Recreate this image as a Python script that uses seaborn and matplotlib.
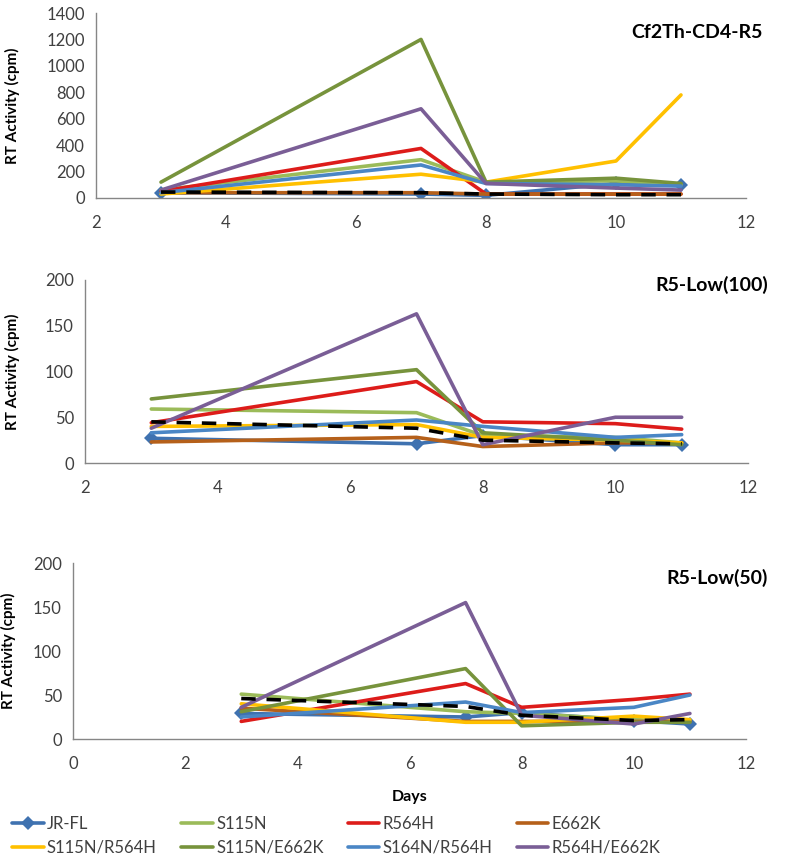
import numpy as np
import pandas as pd
import matplotlib
matplotlib.use("Agg")
import matplotlib.pyplot as plt
import seaborn as sns

sns.set_theme(style="white")
plt.rcParams['font.family'] = ['Lato', 'DejaVu Sans']

# ---- data ----
days = [3, 7, 8, 10, 11]

series_names = ['JR-FL', 'S115N', 'R564H', 'E662K',
                'S115N/R564H', 'S115N/E662K', 'S164N/R564H', 'R564H/E662K']
series_colors = ['#3F72B0', '#9BBB59', '#DD1C1A', '#B5601A',
                 '#FFC000', '#77933C', '#4A86C5', '#7A5E96']

panel_titles = ['Cf2Th-CD4-R5', 'R5-Low(100)', 'R5-Low(50)']

# Cf2Th-CD4-R5
cf2th = {
    'JR-FL':       [40, 30, 20, 110, 95],
    'S115N':       [60, 290, 120, 130, 100],
    'R564H':       [50, 375, 30, 30, 30],
    'E662K':       [40, 40, 30, 30, 30],
    'S115N/R564H': [30, 180, 120, 280, 780],
    'S115N/E662K': [120, 1200, 120, 150, 110],
    'S164N/R564H': [40, 250, 110, 100, 90],
    'R564H/E662K': [60, 675, 110, 75, 60],
}
cf2th_dash = [45, 40, 30, 25, 25]

# R5-Low(100)
low100 = {
    'JR-FL':       [27, 21, 30, 20, 20],
    'S115N':       [59, 55, 30, 28, 22],
    'R564H':       [44, 89, 45, 43, 37],
    'E662K':       [23, 28, 18, 22, 22],
    'S115N/R564H': [40, 42, 28, 25, 22],
    'S115N/E662K': [70, 102, 33, 25, 20],
    'S164N/R564H': [33, 47, 40, 28, 31],
    'R564H/E662K': [38, 163, 20, 50, 50],
}
low100_dash = [45, 38, 25, 22, 21]

# R5-Low(50)
low50 = {
    'JR-FL':       [29, 25, 30, 21, 17],
    'S115N':       [51, 31, 29, 22, 20],
    'R564H':       [20, 63, 36, 45, 51],
    'E662K':       [35, 20, 20, 20, 20],
    'S115N/R564H': [40, 19, 19, 26, 22],
    'S115N/E662K': [31, 80, 15, 19, 19],
    'S164N/R564H': [25, 42, 30, 36, 50],
    'R564H/E662K': [36, 155, 27, 17, 29],
}
low50_dash = [46, 37, 27, 21, 22]

panel_data = [cf2th, low100, low50]
panel_dash = [cf2th_dash, low100_dash, low50_dash]
y_max = [1400, 200, 200]
y_step = [200, 50, 50]
x_min = [2, 2, 0]

# axes boxes in pixels: left, right, top, bottom
W, H = 790, 864
boxes = [(96, 746, 13, 198), (85, 748, 280, 463), (73, 746, 563, 739)]
title_pos = [(763, 32), (768, 285), (768, 578)]
ylabel_x = [20, 20, 16]

axis_gray = '#868686'
text_gray = '#404040'

fig = plt.figure(figsize=(W / 100, H / 100), dpi=100)

legend_handles = {}
for i in range(3):
    l, r, t, b = boxes[i]
    ax = fig.add_axes([l / W, 1 - b / H, (r - l) / W, (b - t) / H])
    data = panel_data[i]
    for name, color in zip(series_names, series_colors):
        df = pd.DataFrame({'Days': days, 'RT': data[name]})
        kw = dict(marker='D', markersize=7.5, markeredgewidth=0) if name == 'JR-FL' else {}
        sns.lineplot(data=df, x='Days', y='RT', ax=ax, color=color, lw=2.6,
                     label=name, legend=False, **kw)
    df = pd.DataFrame({'Days': days, 'RT': panel_dash[i]})
    sns.lineplot(data=df, x='Days', y='RT', ax=ax, color='black', lw=2.6,
                 dashes=False, legend=False)
    ax.lines[-1].set_dashes([4, 3])
    if i == 0:
        for ln, name in zip(ax.lines, series_names):
            legend_handles[name] = ln

    ax.set_xlim(x_min[i], 12)
    ax.set_ylim(0, y_max[i])
    ax.set_xticks(np.arange(x_min[i], 13, 2))
    ax.set_yticks(np.arange(0, y_max[i] + 1, y_step[i]))
    sns.despine(ax=ax)
    for sp in ['left', 'bottom']:
        ax.spines[sp].set_color(axis_gray)
        ax.spines[sp].set_linewidth(1)
    ax.tick_params(axis='both', colors=axis_gray, labelcolor=text_gray,
                   labelsize=12, direction='out', length=5, width=1)
    ax.tick_params(axis='x', pad=7)
    ax.tick_params(axis='y', pad=3)
    ax.grid(False)

    ax.set_ylabel('RT Activity (cpm)', fontsize=11, fontweight='bold', color='black')
    ax.yaxis.set_label_coords(ylabel_x[i] / W, 1 - (t + b) / 2 / H, transform=fig.transFigure)
    if i == 2:
        ax.set_xlabel('Days', fontsize=11.5, fontweight='bold', color='black')
        ax.xaxis.set_label_coords(410 / W, 1 - 790 / H, transform=fig.transFigure)
    else:
        ax.set_xlabel('')

    tx, ty = title_pos[i]
    fig.text(tx / W, 1 - ty / H, panel_titles[i], ha='right', va='center',
             fontsize=14, fontweight='bold', color='black')

# legend: matplotlib fills column-wise, so interleave the two rows
order = ['JR-FL', 'S115N/R564H', 'S115N', 'S115N/E662K',
         'R564H', 'S164N/R564H', 'E662K', 'R564H/E662K']
fig.legend([legend_handles[n] for n in order], order,
           loc='upper left', bbox_to_anchor=(12 / W, 1 - 816 / H),
           ncol=4, frameon=False, fontsize=12, handlelength=1.9,
           handletextpad=0.2, columnspacing=1.45, labelspacing=0.45,
           borderaxespad=0, borderpad=0, labelcolor=text_gray)

plt.savefig('out.png', dpi=100)
